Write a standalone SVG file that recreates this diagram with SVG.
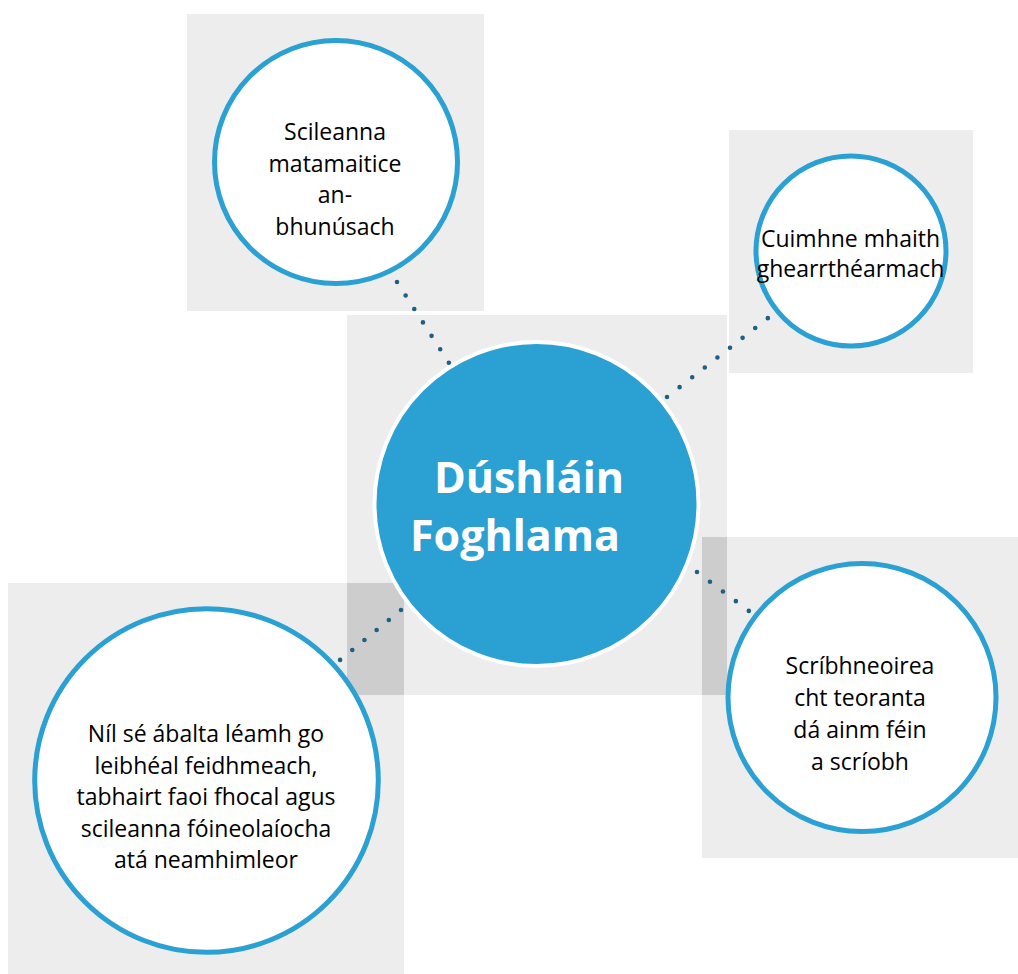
<svg xmlns="http://www.w3.org/2000/svg" width="1018" height="974" viewBox="0 0 1018 974">
<style>
.bg{fill:#ededed}
.ov{fill:#cdcdcd}
.ring{fill:#ffffff;stroke:#2ba0d3;stroke-width:5}
.hub{fill:#2ba0d3;stroke:#ffffff;stroke-width:4}
.lbl{font-family:"Open Sans","Liberation Sans",sans-serif;font-size:23px;fill:#000;text-anchor:middle}
.hubt{font-family:"Open Sans","Liberation Sans",sans-serif;font-size:43px;font-weight:bold;fill:#fff;text-anchor:middle}
.dot{stroke:#1f5f85;stroke-width:4.6;stroke-linecap:round;fill:none}
</style>
<rect width="1018" height="974" fill="#ffffff"/>
<g id="backgrounds">
<rect class="bg" x="187" y="14" width="297" height="297"/>
<rect class="bg" x="729" y="130" width="244" height="243"/>
<rect class="bg" x="347" y="315" width="380" height="380"/>
<rect class="bg" x="8" y="583" width="396" height="396"/>
<rect class="bg" x="702" y="537" width="321" height="321"/>
<rect class="ov" x="347" y="583" width="57" height="112"/>
<rect class="ov" x="702" y="537" width="25" height="158"/>
</g>
<g id="connectors">
<line class="dot" x1="397" y1="282" x2="449" y2="363" stroke-dasharray="0 16"/>
<line class="dot" x1="667" y1="397" x2="768" y2="318" stroke-dasharray="0 16"/>
<line class="dot" x1="401" y1="610" x2="340" y2="660" stroke-dasharray="0 15.75"/>
<line class="dot" x1="697" y1="572" x2="749" y2="611" stroke-dasharray="0 16.2"/>
</g>
<g id="node-center">
<circle class="hub" cx="536.5" cy="504" r="162"/>
<text class="hubt"><tspan x="529" y="493">Dúshláin</tspan><tspan x="515" y="551">Foghlama</tspan></text>
</g>
<g id="node-top-left">
<circle class="ring" cx="336" cy="162" r="121.5"/>
<text class="lbl"><tspan x="335" y="140">Scileanna</tspan><tspan x="335" y="171.5">matamaitice</tspan><tspan x="335" y="203">an-</tspan><tspan x="335" y="235">bhunúsach</tspan></text>
</g>
<g id="node-top-right">
<circle class="ring" cx="851" cy="251" r="95"/>
<text class="lbl"><tspan x="850.5" y="247">Cuimhne mhaith</tspan><tspan x="850.5" y="277">ghearrthéarmach</tspan></text>
</g>
<g id="node-bottom-left">
<circle class="ring" cx="206.5" cy="780.5" r="171.8"/>
<text class="lbl"><tspan x="206" y="742">Níl sé ábalta léamh go</tspan><tspan x="206" y="773.5">leibhéal feidhmeach,</tspan><tspan x="206" y="805">tabhairt faoi fhocal agus</tspan><tspan x="206" y="836.5">scileanna fóineolaíocha</tspan><tspan x="206" y="868">atá neamhimleor</tspan></text>
</g>
<g id="node-bottom-right">
<circle class="ring" cx="862" cy="697.5" r="134"/>
<text class="lbl"><tspan x="860" y="673.5">Scríbhneoirea</tspan><tspan x="860" y="705.5">cht teoranta</tspan><tspan x="860" y="737.5">dá ainm féin</tspan><tspan x="860" y="769.5">a scríobh</tspan></text>
</g>
</svg>
